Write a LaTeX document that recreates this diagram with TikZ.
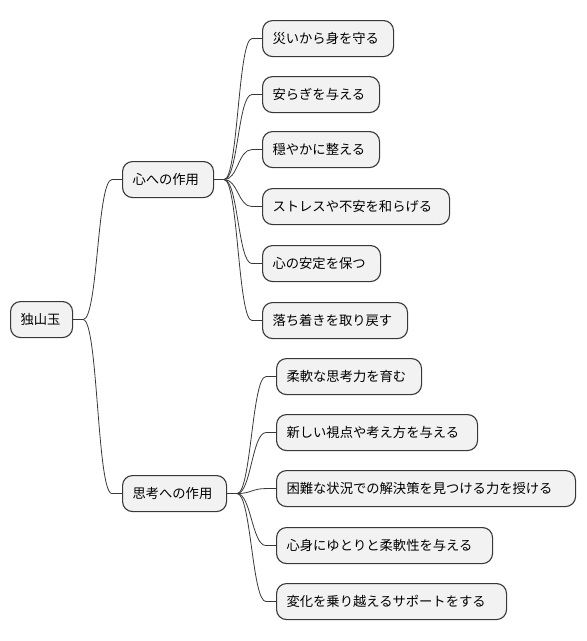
\documentclass[tikz,border=0pt]{standalone}
\usepackage{fontspec}
\newfontfamily\jp{Noto Sans CJK JP}
\tikzset{
  x=1pt,y=1pt,
  box/.style={draw=black!78, line width=1.1pt, fill=black!5, rounded corners=10pt,
    anchor=north west, minimum height=36pt, inner xsep=10pt, inner ysep=0pt,
    align=left, font=\jp\fontsize{13.3}{15}\selectfont, text=black},
  link/.style={draw=black!78, line width=0.8pt},
}
\newcommand{\bx}[5]{\node[box, text width=#4-20pt] (#1) at (#2,-#3) {#5};}
\newcommand{\lk}[3]{\draw[link] (#1.east) -- ++(10,0) .. controls +(#3,0) and +(-#3,0) .. ([xshift=-10pt]#2.west) -- (#2.west);}
\begin{document}
\begin{tikzpicture}
\useasboundingbox (0,0) rectangle (587,-641);
\bx{root}{10}{301}{62}{独山玉}
\bx{a}{122}{161}{91}{心への作用}
\bx{b}{122}{475}{104}{思考への作用}
\bx{a1}{262}{20}{131}{災いから身を守る}
\bx{a2}{262}{76}{117}{安らぎを与える}
\bx{a3}{262}{131}{117}{穏やかに整える}
\bx{a4}{262}{188}{187}{ストレスや不安を和らげる}
\bx{a5}{262}{245}{118}{心の安定を保つ}
\bx{a6}{262}{302}{145}{落ち着きを取り戻す}
\bx{b1}{276}{358}{145}{柔軟な思考力を育む}
\bx{b2}{276}{414}{201}{新しい視点や考え方を与える}
\bx{b3}{276}{470}{299}{困難な状況での解決策を見つける力を授ける}
\bx{b4}{276}{527}{216}{心身にゆとりと柔軟性を与える}
\bx{b5}{276}{583}{230}{変化を乗り越えるサポートをする}
\lk{root}{a}{15}
\lk{root}{b}{15}
\foreach \c in {a1,a2,a3,a4,a5,a6}{\lk{a}{\c}{14}}
\foreach \c in {b1,b2,b3,b4,b5}{\lk{b}{\c}{14}}
\end{tikzpicture}
\end{document}
